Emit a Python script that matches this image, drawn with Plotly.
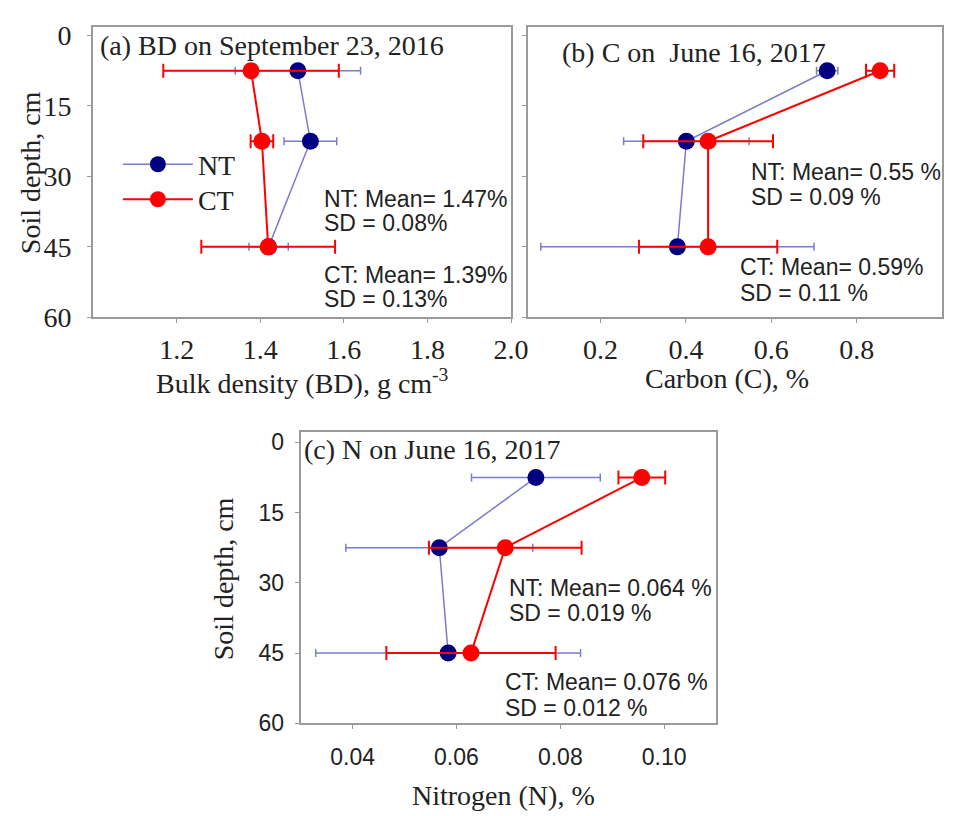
import plotly.graph_objects as go

# ---------------- data ----------------
depth = [7.5, 22.5, 45]

bd_nt = [1.49, 1.52, 1.42]
bd_nt_sd = [0.15, 0.063, 0.047]
bd_ct = [1.378, 1.404, 1.419]
bd_ct_sd = [0.21, 0.027, 0.16]

c_nt = [0.731, 0.401, 0.38]
c_nt_sd = [0.025, 0.147, 0.32]
c_ct = [0.855, 0.452, 0.452]
c_ct_sd = [0.033, 0.152, 0.162]

n_nt = [0.0753, 0.0567, 0.0584]
n_nt_sd = [0.0124, 0.018, 0.0255]
n_ct = [0.0957, 0.0694, 0.0628]
n_ct_sd = [0.0045, 0.0147, 0.0163]

depth_ticks = [0, 15, 30, 45, 60]
bd_ticks = [1.2, 1.4, 1.6, 1.8, 2.0]
c_ticks = [0.2, 0.4, 0.6, 0.8]
n_ticks = [0.04, 0.06, 0.08, 0.10]

series_names = ["NT", "CT"]

# ---------------- styles ----------------
W, H = 953, 816
SERIF = "Liberation Serif, Times New Roman, serif"
SANS = "Liberation Sans, Arial, sans-serif"
NT_MARK = "#000080"
NT_LINE = "#7b7bd0"
CT_COL = "#ff0000"
FRAME = "#9a9a9a"
SERIF_SIZE = 28
SANS_SIZE = 23

fig = go.Figure()


def add_pair(xnt, xnt_sd, xct, xct_sd, xa, ya, show_leg):
    fig.add_trace(go.Scatter(
        x=xnt, y=depth, xaxis=xa, yaxis=ya, name=series_names[0],
        mode="lines+markers", showlegend=show_leg, legend="legend",
        line=dict(color=NT_LINE, width=1.5),
        marker=dict(color=NT_MARK, size=17),
        error_x=dict(type="data", array=xnt_sd, color=NT_LINE, thickness=1.5, width=4),
    ))
    fig.add_trace(go.Scatter(
        x=xct, y=depth, xaxis=xa, yaxis=ya, name=series_names[1],
        mode="lines+markers", showlegend=show_leg, legend="legend2",
        line=dict(color=CT_COL, width=2),
        marker=dict(color=CT_COL, size=17),
        error_x=dict(type="data", array=xct_sd, color=CT_COL, thickness=2, width=7),
    ))


add_pair(bd_nt, bd_nt_sd, bd_ct, bd_ct_sd, "x", "y", True)
add_pair(c_nt, c_nt_sd, c_ct, c_ct_sd, "x2", "y2", False)
add_pair(n_nt, n_nt_sd, n_ct, n_ct_sd, "x3", "y3", False)


def px_x(p):
    return p / W


def px_y(p):
    return 1 - p / H


axis_common = dict(showline=True, mirror=True, linecolor=FRAME, linewidth=2,
                   ticks="outside", ticklen=4, tickcolor=FRAME, tickwidth=1,
                   showgrid=False, zeroline=False)

dom_a = [px_x(86.7), px_x(512.7)]
dom_b = [px_x(530), px_x(952)]
dom_c = [px_x(298.3), px_x(721.7)]
dom_top = [px_y(311.7), px_y(13)]
dom_bot = [px_y(729), px_y(430)]

serif_tick = dict(family=SERIF, size=SERIF_SIZE, color="#222")
sans_tick = dict(family=SANS, size=SANS_SIZE, color="#222")

legend_style = dict(xanchor="left", yanchor="top", bgcolor="rgba(0,0,0,0)",
                    itemwidth=70, font=dict(family=SERIF, size=SERIF_SIZE, color="#222"))

fig.update_layout(
    width=W, height=H,
    margin=dict(l=0, r=0, t=0, b=0),
    paper_bgcolor="white", plot_bgcolor="white",
    xaxis=dict(domain=dom_a, range=[1.0, 2.0], anchor="y",
               tickvals=bd_ticks, ticktext=[f"{v:.1f}" for v in bd_ticks],
               tickfont=serif_tick, ticklabelstandoff=2, **axis_common),
    yaxis=dict(domain=dom_top, range=[60, -1.9], anchor="x",
               tickvals=depth_ticks, ticktext=[str(v) for v in depth_ticks],
               tickfont=serif_tick, ticklabelstandoff=10, **axis_common),
    xaxis2=dict(domain=dom_b, range=[0.03, 1.0], anchor="y2",
                tickvals=c_ticks, ticktext=[f"{v:.1f}" for v in c_ticks],
                tickfont=serif_tick, ticklabelstandoff=2, **axis_common),
    yaxis2=dict(domain=dom_top, range=[60, -1.9], anchor="x2",
                tickvals=depth_ticks, showticklabels=False, **axis_common),
    xaxis3=dict(domain=dom_c, range=[0.03, 0.11], anchor="y3",
                tickvals=n_ticks, ticktext=[f"{v:.2f}" for v in n_ticks],
                tickfont=sans_tick, ticklabelstandoff=8, **axis_common),
    yaxis3=dict(domain=dom_bot, range=[60, -2.1], anchor="x3",
                tickvals=depth_ticks, ticktext=[str(v) for v in depth_ticks],
                tickfont=sans_tick, ticklabelstandoff=6, **axis_common),
    legend=dict(x=px_x(112), y=px_y(129), **legend_style),
    legend2=dict(x=px_x(112), y=px_y(165), **legend_style),
)

ann = []


def text(x, y, s, font, size, xanchor="left", angle=0):
    ann.append(dict(x=px_x(x), y=px_y(y), xref="paper", yref="paper", text=s,
                    showarrow=False, xanchor=xanchor, yanchor="middle",
                    textangle=angle, font=dict(family=font, size=size, color="#222")))


# panel titles
text(92, 32, "(a) BD on September 23, 2016", SERIF, SERIF_SIZE)
text(563, 40, "(b) C on&nbsp; June 16, 2017", SERIF, SERIF_SIZE)
text(300, 448, "(c) N on June 16, 2017", SERIF, SERIF_SIZE)

# axis titles
text(300, 378, "Bulk density (BD), g cm<sup>-3</sup>", SERIF, SERIF_SIZE, "center")
text(733, 375, "Carbon (C), %", SERIF, SERIF_SIZE, "center")
text(505, 803, "Nitrogen (N), %", SERIF, SERIF_SIZE, "center")
text(23, 163, "Soil depth, cm", SERIF, SERIF_SIZE, "center", -90)
text(220, 580, "Soil depth, cm", SERIF, SERIF_SIZE, "center", -90)

# statistics
text(320, 190, "NT: Mean= 1.47%", SANS, SANS_SIZE)
text(320, 215, "SD = 0.08%", SANS, SANS_SIZE)
text(320, 268, "CT: Mean= 1.39%", SANS, SANS_SIZE)
text(320, 293, "SD = 0.13%", SANS, SANS_SIZE)

text(755, 162, "NT: Mean= 0.55 %", SANS, SANS_SIZE)
text(755, 188, "SD = 0.09 %", SANS, SANS_SIZE)
text(744, 260, "CT: Mean= 0.59%", SANS, SANS_SIZE)
text(744, 287, "SD = 0.11 %", SANS, SANS_SIZE)

text(509, 590, "NT: Mean= 0.064 %", SANS, SANS_SIZE)
text(509, 616, "SD = 0.019 %", SANS, SANS_SIZE)
text(505, 687, "CT: Mean= 0.076 %", SANS, SANS_SIZE)
text(505, 713, "SD = 0.012 %", SANS, SANS_SIZE)

fig.update_layout(annotations=ann)

fig.write_html("out.html")
